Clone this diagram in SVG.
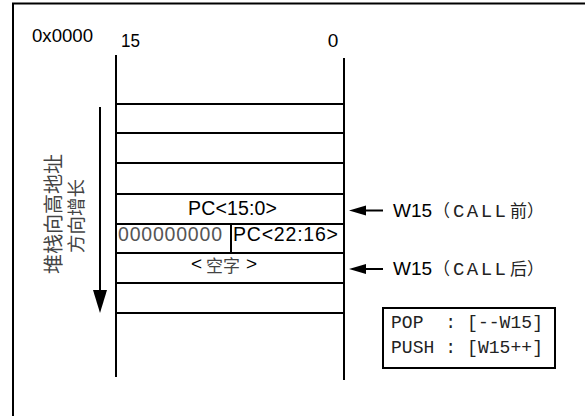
<svg xmlns="http://www.w3.org/2000/svg" width="585" height="416" viewBox="0 0 585 416">
<style>
.ln{stroke:#000;stroke-width:2;fill:none}
.sans{font-family:"Liberation Sans",Arial,sans-serif;fill:#000}
.mono{font-family:"Liberation Mono","Courier New",monospace;fill:#222}
.cjk{font-family:"Noto Sans CJK SC","Liberation Sans",sans-serif;fill:#444}
</style>
<rect width="585" height="416" fill="#fff"/>
<path class="ln" d="M13,418 V3.5 H587"/>
<g id="header">
<text class="sans" x="32" y="42" font-size="19" textLength="61" lengthAdjust="spacingAndGlyphs">0x0000</text>
<text class="sans" x="121" y="47" font-size="19" textLength="19" lengthAdjust="spacingAndGlyphs">15</text>
<text class="sans" x="333" y="47" font-size="19" text-anchor="middle">0</text>
</g>
<g id="stack">
<line class="ln" x1="116" y1="55" x2="116" y2="377"/>
<line class="ln" x1="344" y1="58" x2="344" y2="380"/>
<line class="ln" x1="116" y1="104" x2="344" y2="104"/>
<line class="ln" x1="116" y1="133" x2="344" y2="133"/>
<line class="ln" x1="116" y1="163" x2="344" y2="163"/>
<line class="ln" x1="116" y1="194" x2="344" y2="194"/>
<line class="ln" x1="116" y1="224" x2="344" y2="224"/>
<line class="ln" x1="116" y1="253" x2="344" y2="253"/>
<line class="ln" x1="116" y1="283" x2="344" y2="283"/>
<line class="ln" x1="116" y1="313" x2="344" y2="313"/>
<line class="ln" x1="231" y1="224" x2="231" y2="253"/>
</g>
<g id="pc-low">
<text class="sans" x="188" y="215" font-size="19.5" textLength="89" lengthAdjust="spacing">PC&lt;15:0&gt;</text>
</g>
<g id="pc-high">
<text class="sans" x="118" y="241" font-size="19.5" style="fill:#555" textLength="104" lengthAdjust="spacing">000000000</text>
<text class="sans" x="233" y="241" font-size="19.5" textLength="105" lengthAdjust="spacing">PC&lt;22:16&gt;</text>
</g>
<g id="empty-word">
<text class="sans" x="191" y="270" font-size="19">&lt;</text>
<text class="cjk" x="206" y="272" font-size="17">空字</text>
<text class="sans" x="246" y="270" font-size="19">&gt;</text>
</g>
<g id="growth-label">
<text class="cjk" font-size="20" text-anchor="middle" dominant-baseline="central" transform="translate(52,214) rotate(-90)">堆栈向高地址</text>
<text class="cjk" font-size="18.5" text-anchor="middle" dominant-baseline="central" transform="translate(75,216) rotate(-90)">方向增长</text>
</g>
<g id="w15-before">
<text class="sans" x="393" y="217" font-size="19">W15</text>
<text class="cjk" x="433" y="217" font-size="17" style="fill:#222">（</text>
<text class="mono" x="453" y="217" font-size="19" textLength="53" lengthAdjust="spacing">CALL</text>
<text class="cjk" x="510" y="217" font-size="17" style="fill:#222">前）</text>
</g>
<g id="w15-after">
<text class="sans" x="393" y="275" font-size="19">W15</text>
<text class="cjk" x="433" y="275" font-size="17" style="fill:#222">（</text>
<text class="mono" x="453" y="275" font-size="19" textLength="53" lengthAdjust="spacing">CALL</text>
<text class="cjk" x="510" y="275" font-size="17" style="fill:#222">后）</text>
</g>
<g id="legend">
<rect class="ln" x="383" y="308" width="172" height="60"/>
<text class="mono" x="391" y="328" font-size="18" textLength="152" lengthAdjust="spacing" xml:space="preserve">POP  : [--W15]</text>
<text class="mono" x="391" y="353" font-size="18" textLength="152" lengthAdjust="spacing" xml:space="preserve">PUSH : [W15++]</text>
</g>
<g id="connectors">
<line class="ln" x1="100" y1="107" x2="100" y2="291"/>
<polygon points="93,290 107,290 100,313" fill="#000"/>
<line class="ln" x1="383" y1="210.5" x2="362" y2="210.5"/>
<polygon points="349,210.5 366,205.5 366,215.5" fill="#000"/>
<line class="ln" x1="383" y1="269" x2="362" y2="269"/>
<polygon points="349,269 366,264 366,274" fill="#000"/>
</g>
</svg>
